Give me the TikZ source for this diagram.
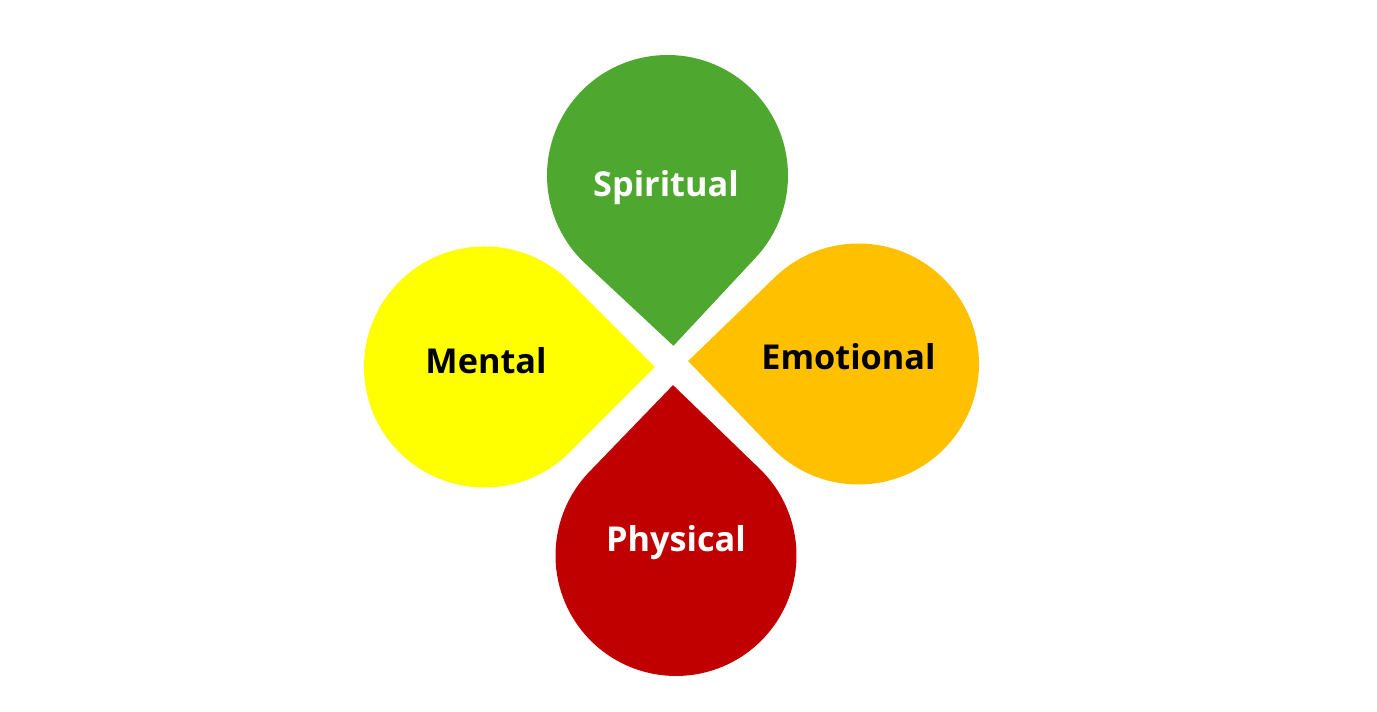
\documentclass[tikz,border=0pt]{standalone}
\usepackage{fontspec}
\setmainfont{Open Sans}
\usetikzlibrary{calc}
\definecolor{spiritgreen}{HTML}{4EA72E}
\definecolor{mentalyellow}{HTML}{FFFF00}
\definecolor{emotionorange}{HTML}{FFC000}
\definecolor{physicalred}{HTML}{C00000}
\tikzset{petal text/.style={anchor=base,inner sep=0pt,font=\fontsize{19.5}{23}\selectfont\bfseries}}

\begin{document}
\begin{tikzpicture}[x=0.02cm,y=0.02cm]
  \useasboundingbox (0,0) rectangle (1377,712);
  \def\petalr{120.5}
  \coordinate (S) at (667.5,536.5);
  \coordinate (M) at (484.5,345);
  \coordinate (E) at (858.5,348);
  \coordinate (P) at (676,156.5);
  % teardrops: circle with a square corner pointing to the middle
  \foreach \c/\a/\col in {S/-88/spiritgreen,M/0/mentalyellow,E/179/emotionorange,P/91/physicalred}
    \fill[\col] ($(\c)+(\a:{\petalr*sqrt(2)})$) -- ($(\c)+({\a+45}:\petalr)$)
      arc[start angle=\a+45, end angle=\a+315, radius=\petalr] -- cycle;
  \node[petal text,text=white] (spiritual) at (666,515) {Spiritual};
  \node[petal text] (mental) at (486,338) {Mental};
  \node[petal text] (emotional) at (848.5,342) {Emotional};
  \node[petal text,text=white] (physical) at (676,160) {Physical};
\end{tikzpicture}
\end{document}
